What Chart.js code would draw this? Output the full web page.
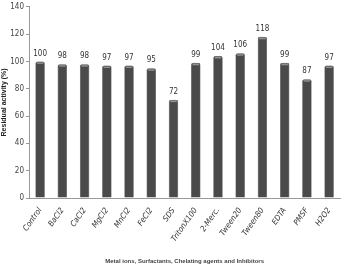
<!DOCTYPE html>
<html>
<head>
<meta charset="utf-8">
<script src="https://cdn.jsdelivr.net/npm/chart.js@4.4.0/dist/chart.umd.min.js"></script>
<style>
  html, body { margin: 0; padding: 0; background: #fff; }
  #wrap { width: 341px; height: 265px; }
</style>
</head>
<body>
<div id="wrap"><canvas id="c" width="341" height="265"></canvas></div>
<script>
const categories = ['Control', 'BaCl2', 'CaCl2', 'MgCl2', 'MnCl2', 'FeCl2', 'SDS', 'TritonX100',
    '2-Merc.', 'Tween20', 'Tween80', 'EDTA', 'PMSF', 'H2O2'];
const activity = [100, 98, 98, 97, 97, 95, 72, 99, 104, 106, 118, 99, 87, 97];
const yTicks = [0, 20, 40, 60, 80, 100, 120, 140];

const NARROW = '"DejaVu Sans Condensed", "Liberation Sans Narrow", sans-serif';

// cylinder-ish shading for each bar
function barFill(context) {
    const el = context.element;
    const c = context.chart.ctx;
    if (!el || el.width === undefined) return '#4a4a4a';
    const x0 = el.x - el.width / 2;
    const g = c.createLinearGradient(x0, 0, x0 + el.width, 0);
    g.addColorStop(0, '#363636');
    g.addColorStop(0.45, '#676767');
    g.addColorStop(1, '#363636');
    return g;
}

// value on top + light cap of each bar
const valueLabels = {
    id: 'valueLabels',
    afterDatasetsDraw(chart) {
        const { ctx } = chart;
        const meta = chart.getDatasetMeta(0);
        ctx.save();
        meta.data.forEach((bar, i) => {
            ctx.fillStyle = 'rgba(200,200,200,0.55)';
            ctx.fillRect(bar.x - bar.width / 2 + 1.5, bar.y + 1, bar.width - 3, 1.5);
        });
        ctx.font = '8px ' + NARROW;
        ctx.fillStyle = '#333';
        ctx.textAlign = 'center';
        ctx.textBaseline = 'bottom';
        meta.data.forEach((bar, i) => {
            ctx.fillText(String(activity[i]), bar.x, bar.y - 4);
        });
        ctx.restore();
    }
};

new Chart(document.getElementById('c'), {
    type: 'bar',
    data: {
        labels: categories,
        datasets: [{
            data: activity,
            backgroundColor: barFill,
            borderColor: '#2e2e2e',
            borderWidth: 0.5,
            borderRadius: { topLeft: 2, topRight: 2 },
            borderSkipped: 'bottom',
            barPercentage: 0.85,
            categoryPercentage: 0.5
        }]
    },
    options: {
        responsive: false,
        animation: false,
        devicePixelRatio: 1,
        layout: { padding: { top: 4, right: -3, left: 0, bottom: 0 } },
        plugins: { legend: { display: false }, tooltip: { enabled: false } },
        scales: {
            x: {
                grid: { display: false, drawOnChartArea: false, drawTicks: true, tickLength: 4, offset: true, color: '#999' },
                border: { color: '#999' },
                ticks: {
                    minRotation: 55, maxRotation: 55, padding: 4,
                    color: '#333',
                    font: { size: 8, style: 'italic', family: NARROW }
                },
                title: {
                    display: true,
                    text: 'Metal ions, Surfactants, Chelating agents and Inhibitors',
                    color: '#444',
                    padding: { top: 4, bottom: 0 },
                    font: { size: 6, weight: 'bold', family: 'Liberation Sans, sans-serif' }
                },
                afterFit(scale) { scale.height = 67; }
            },
            y: {
                min: 0, max: 140,
                afterBuildTicks(scale) { scale.ticks = yTicks.map(v => ({ value: v })); },
                grid: { drawOnChartArea: false, drawTicks: true, tickLength: 3, color: '#999' },
                border: { color: '#999' },
                ticks: {
                    color: '#444', padding: 2,
                    font: { size: 8, family: NARROW }
                },
                title: {
                    display: true,
                    text: 'Residual activity (%)',
                    color: '#222',
                    padding: { top: 0, bottom: 1 },
                    font: { size: 7, weight: 'bold', family: 'Liberation Sans, sans-serif' }
                },
                afterFit(scale) { scale.width = 29; }
            }
        }
    },
    plugins: [valueLabels]
});
</script>
</body>
</html>
